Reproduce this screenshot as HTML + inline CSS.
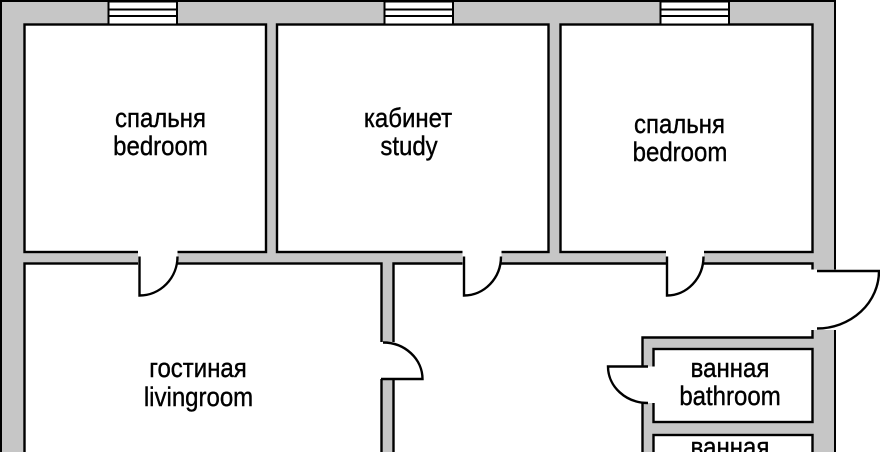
<!DOCTYPE html>
<html><head><meta charset="utf-8">
<style>
html,body{margin:0;padding:0;background:#fff;width:880px;height:452px;overflow:hidden}
svg{display:block}
text{font-family:"Liberation Sans","Noto Sans CJK SC",sans-serif;font-size:24px;fill:#000;stroke:#000;stroke-width:0.35;text-anchor:middle}
</style></head>
<body>
<svg width="880" height="452" viewBox="0 0 880 452" xmlns="http://www.w3.org/2000/svg">
<rect x="0" y="0" width="880" height="452" fill="#fff"/>
<!-- wall mass -->
<rect x="1" y="1" width="834" height="460" fill="#c6c6c6" stroke="#000" stroke-width="2"/>

<!-- rooms -->
<g fill="#fff" stroke="#000" stroke-width="2.4">
  <rect x="24.5" y="24.5" width="241.5" height="227.5"/>
  <rect x="277" y="24.5" width="271.5" height="227.5"/>
  <rect x="560.5" y="24.5" width="252" height="227.5"/>
  <rect x="24.5" y="263.5" width="357" height="200"/>
  <path d="M393.5,263.5 H812.5 V337.5 H642.5 V460 H393.5 Z"/>
  <rect x="653.5" y="349" width="159" height="73"/>
  <rect x="653.5" y="435" width="159" height="30"/>
</g>

<!-- windows -->
<g fill="#fff" stroke="#000" stroke-width="2">
  <rect x="108.5" y="1.5" width="68.5" height="23"/>
  <rect x="384.5" y="1.5" width="68.5" height="23"/>
  <rect x="660.5" y="1.5" width="68.5" height="23"/>
</g>
<g stroke="#000" stroke-width="2">
  <line x1="108.5" y1="9.5" x2="177" y2="9.5"/>
  <line x1="108.5" y1="16" x2="177" y2="16"/>
  <line x1="384.5" y1="9.5" x2="453" y2="9.5"/>
  <line x1="384.5" y1="16" x2="453" y2="16"/>
  <line x1="660.5" y1="9.5" x2="729" y2="9.5"/>
  <line x1="660.5" y1="16" x2="729" y2="16"/>
</g>

<!-- door openings -->
<g fill="#fff">
  <rect x="138" y="250" width="39.5" height="15.5"/>
  <rect x="462.5" y="250" width="39" height="15.5"/>
  <rect x="666" y="250" width="38" height="15.5"/>
  <rect x="379.5" y="342" width="16" height="37"/>
  <rect x="811" y="269.5" width="26" height="60.5"/>
  <rect x="640.5" y="366.5" width="15.5" height="36.5"/>
</g>

<!-- door leaves and swings -->
<g fill="none" stroke="#000" stroke-width="2.4">
  <path d="M139.5,256.5 V295.5 A38,39 0 0 0 177.5,256.5"/>
  <path d="M464,256.5 V295.5 A37,39 0 0 0 501,256.5"/>
  <path d="M667,256.5 V295.5 A36.5,39 0 0 0 703.5,256.5"/>
  <path d="M383,342.5 A39.5,36.5 0 0 1 422.5,379 H381"/>
  <path d="M817,271 H879 A62,57.5 0 0 1 817,328.5"/>
  <path d="M648,366.5 H608 A40,36.5 0 0 0 648,403"/>
</g>

<!-- labels -->
<text transform="translate(160.5 127) scale(1 1.12)">спальня</text>
<text transform="translate(160.5 155) scale(1 1.12)">bedroom</text>
<text transform="translate(408 127) scale(1 1.12)">кабинет</text>
<text transform="translate(409 155) scale(1 1.12)">study</text>
<text transform="translate(679.5 133) scale(1 1.12)">спальня</text>
<text transform="translate(680 161) scale(1 1.12)">bedroom</text>
<text transform="translate(198 377) scale(1 1.12)">гостиная</text>
<text transform="translate(198.5 406) scale(1 1.12)">livingroom</text>
<text transform="translate(730 377) scale(1 1.12)">ванная</text>
<text transform="translate(730 405) scale(1 1.12)">bathroom</text>
<text transform="translate(730 456) scale(1 1.12)">ванная</text>
</svg>
</body></html>
